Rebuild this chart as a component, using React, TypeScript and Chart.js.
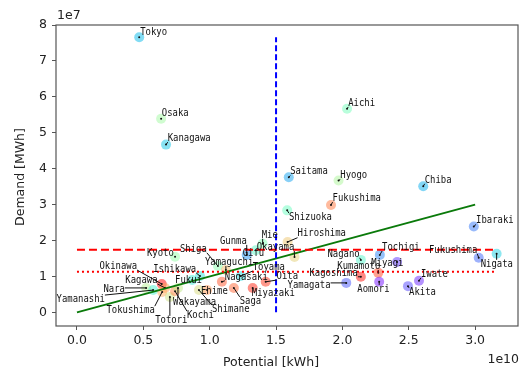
import React, { useEffect, useRef } from "react";
import { Chart, registerables } from "chart.js";

Chart.register(...registerables);

// Potential in units of 1e10 kWh, Demand in units of 1e7 MWh
const prefectures = [
  "Tokyo", "Osaka", "Kanagawa", "Aichi", "Saitama", "Hyogo", "Chiba", "Fukushima", "Shizuoka", "Ibaraki",
  "Hiroshima", "Mie", "Okayama", "Gifu", "Gunma", "Kyoto", "Shiga", "Yamaguchi", "Toyama", "Ishikawa",
  "Fukui", "Okinawa", "Kagawa", "Nara", "Yamanashi", "Tokushima", "Totori", "Kochi", "Wakayama", "Ehime",
  "Shimane", "Nagasaki", "Saga", "Miyazaki", "Oita", "Nagano", "Tochigi", "Miyagi", "Kumamoto", "Kagoshima",
  "Yamagata", "Aomori", "Akita", "Iwate", "Fukushima", "Nigata",
];
const prefCode = [
  13, 27, 14, 23, 11, 28, 12, 40, 22, 8,
  34, 24, 33, 21, 10, 26, 25, 35, 16, 17,
  18, 47, 37, 29, 19, 36, 31, 39, 30, 38,
  32, 42, 41, 45, 44, 20, 9, 4, 43, 46,
  6, 2, 5, 3, 7, 15,
];
const potential = [
  0.469, 0.634, 0.671, 2.035, 1.596, 1.971, 2.609, 1.914, 1.584, 2.99,
  1.587, 1.399, 1.639, 1.347, 1.279, 0.739, 1.062, 1.122, 1.234, 0.927,
  0.868, 0.639, 0.664, 0.521, 0.574, 0.642, 0.70, 0.739, 0.761, 0.98,
  0.919, 1.092, 1.182, 1.324, 1.422, 2.139, 2.282, 2.412, 2.27, 2.139,
  2.029, 2.277, 2.494, 2.577, 3.027, 3.162,
];
const demand = [
  7.66, 5.39, 4.67, 5.67, 3.76, 3.67, 3.51, 2.99, 2.84, 2.39,
  1.96, 1.91, 1.54, 1.73, 1.60, 1.55, 1.29, 1.18, 1.01, 1.01,
  0.90, 0.79, 0.68, 0.68, 0.62, 0.57, 0.43, 0.59, 0.68, 0.62,
  0.62, 0.85, 0.68, 0.68, 0.85, 1.46, 1.60, 1.40, 1.10, 0.99,
  0.82, 0.85, 0.73, 0.88, 1.52, 1.63,
];
// label anchor (left edge, vertical centre) in data units
const labelX = [
  0.476, 0.639, 0.684, 2.044, 1.607, 1.984, 2.62, 1.926, 1.597, 3.007,
  1.662, 1.392, 1.354, 1.249, 1.077, 0.527, 0.776, 0.964, 1.324, 0.574,
  0.739, 0.169, 0.364, 0.199, -0.154, 0.222, 0.589, 0.829, 0.724, 0.934,
  1.017, 1.114, 1.226, 1.317, 1.504, 1.887, 2.299, 2.217, 1.962, 1.752,
  1.587, 2.112, 2.502, 2.592, 2.652, 3.042,
];
const labelY = [
  7.80, 5.53, 4.85, 5.83, 3.92, 3.81, 3.69, 3.18, 2.65, 2.56,
  2.19, 2.16, 1.82, 1.655, 1.99, 1.65, 1.77, 1.40, 1.26, 1.21,
  0.90, 1.29, 0.90, 0.65, 0.37, 0.06, -0.21, -0.08, 0.29, 0.59,
  0.09, 0.99, 0.32, 0.54, 1.01, 1.63, 1.82, 1.38, 1.29, 1.10,
  0.76, 0.65, 0.57, 1.07, 1.74, 1.35,
];

const meanDemand = 1.74;
const medianDemand = 1.13;
const potentialThreshold = 1.5;
const fitLine = [
  [0, 0],
  [3.0, 3.0],
];

const xTicks = [0, 0.5, 1.0, 1.5, 2.0, 2.5, 3.0];
const yTicks = [0, 1, 2, 3, 4, 5, 6, 7, 8];

function rainbow(code: number, alpha: number) {
  const t = (code - 1) / 46;
  const r = Math.min(1, Math.abs(2 * t - 0.5));
  const g = Math.sin(Math.PI * t);
  const b = Math.cos((Math.PI * t) / 2);
  return `rgba(${Math.round(r * 255)},${Math.round(g * 255)},${Math.round(b * 255)},${alpha})`;
}

const LABEL_SX = 0.85;

const decorPlugin = {
  id: "decor",
  afterDatasetsDraw(chart: any) {
    const { ctx, scales } = chart;
    const xs = scales.x;
    const ys = scales.y;
    ctx.save();
    ctx.font = '10.5px "DejaVu Sans Mono"';
    ctx.textBaseline = "middle";
    ctx.textAlign = "left";
    for (let i = 0; i < prefectures.length; i++) {
      const px = xs.getPixelForValue(potential[i]);
      const py = ys.getPixelForValue(demand[i]);
      const lx = xs.getPixelForValue(labelX[i]);
      const ly = ys.getPixelForValue(labelY[i]);
      const w = ctx.measureText(prefectures[i]).width * LABEL_SX;
      const h = 8;
      const nx = Math.max(lx, Math.min(px, lx + w));
      const ny = Math.max(ly - h / 2, Math.min(py, ly + h / 2));
      if (Math.hypot(nx - px, ny - py) > 1.5) {
        ctx.strokeStyle = "#111";
        ctx.lineWidth = 1;
        ctx.beginPath();
        ctx.moveTo(px, py);
        ctx.lineTo(nx, ny);
        ctx.stroke();
      }
      ctx.save();
      ctx.translate(lx, ly);
      ctx.scale(LABEL_SX, 1);
      ctx.fillStyle = "#111";
      ctx.fillText(prefectures[i], 0, 0);
      ctx.restore();
    }
    ctx.restore();
  },
  afterDraw(chart: any) {
    const { ctx, chartArea } = chart;
    ctx.save();
    ctx.strokeStyle = "#555";
    ctx.lineWidth = 1.2;
    ctx.strokeRect(
      chartArea.left,
      chartArea.top,
      chartArea.right - chartArea.left,
      chartArea.bottom - chartArea.top
    );
    ctx.fillStyle = "#222";
    ctx.font = '12.5px "DejaVu Sans"';
    ctx.textBaseline = "middle";
    ctx.textAlign = "center";
    ctx.fillText("Potential [kWh]", 271, 363);
    ctx.textAlign = "left";
    ctx.fillText("1e7", 57, 16);
    ctx.textAlign = "right";
    ctx.fillText("1e10", 519, 360);
    ctx.translate(21, 177);
    ctx.rotate(-Math.PI / 2);
    ctx.textAlign = "center";
    ctx.fillText("Demand [MWh]", 0, 0);
    ctx.restore();
  },
};

export default function App() {
  const canvasRef = useRef<HTMLCanvasElement | null>(null);

  useEffect(() => {
    document.body.style.margin = "0";
    const canvas = canvasRef.current;
    if (!canvas) return;
    const points = potential.map((p, i) => ({ x: p, y: demand[i] }));
    const maxPot = Math.max(...potential);
    const maxDem = Math.max(...demand);
    const chart = new Chart(canvas, {
      type: "scatter",
      data: {
        datasets: [
          {
            data: [
              { x: potentialThreshold, y: 0 },
              { x: potentialThreshold, y: maxDem },
            ],
            showLine: true,
            borderColor: "#0000ff",
            borderWidth: 2,
            borderDash: [6, 3],
            pointRadius: 0,
            order: 0,
          },
          {
            data: [
              { x: 0, y: meanDemand },
              { x: maxPot, y: meanDemand },
            ],
            showLine: true,
            borderColor: "#ff0000",
            borderWidth: 2,
            borderDash: [8, 4],
            pointRadius: 0,
            order: 0,
          },
          {
            data: [
              { x: 0, y: medianDemand },
              { x: maxPot, y: medianDemand },
            ],
            showLine: true,
            borderColor: "#ff0000",
            borderWidth: 2,
            borderDash: [2, 3],
            pointRadius: 0,
            order: 0,
          },
          {
            data: fitLine.map(([a, b]) => ({ x: a, y: b })),
            showLine: true,
            borderColor: "#0a7a0a",
            borderWidth: 2,
            pointRadius: 0,
            order: 0,
          },
          {
            data: points,
            pointRadius: 1,
            pointBackgroundColor: "#111",
            pointBorderWidth: 0,
            order: 1,
          },
          {
            data: points,
            pointRadius: 5,
            pointBackgroundColor: prefCode.map((c) => rainbow(c, 0.5)),
            pointBorderWidth: 0,
            order: 2,
          },
        ],
      },
      options: {
        animation: false,
        responsive: false,
        devicePixelRatio: 1,
        layout: { padding: { left: 0, top: 25, right: 3, bottom: 0 } },
        plugins: {
          legend: { display: false },
          tooltip: { enabled: false },
        },
        scales: {
          x: {
            type: "linear",
            min: -0.158,
            max: 3.323,
            afterBuildTicks: (s: any) => {
              s.ticks = xTicks.map((v) => ({ value: v }));
            },
            afterFit: (s: any) => {
              s.height = 46;
            },
            border: { display: false },
            grid: {
              display: true,
              drawOnChartArea: false,
              drawTicks: true,
              tickLength: 4,
              tickColor: "#555",
              color: "#555",
            },
            ticks: {
              padding: 3,
              color: "#222",
              font: { family: "DejaVu Sans", size: 12.5 },
              callback: (v: any) => Number(v).toFixed(1),
              maxRotation: 0,
            },
          },
          y: {
            type: "linear",
            min: -0.38,
            max: 8.0,
            afterBuildTicks: (s: any) => {
              s.ticks = yTicks.map((v) => ({ value: v }));
            },
            afterFit: (s: any) => {
              s.width = 56;
            },
            border: { display: false },
            grid: {
              display: true,
              drawOnChartArea: false,
              drawTicks: true,
              tickLength: 4,
              tickColor: "#555",
              color: "#555",
            },
            ticks: {
              padding: 5,
              color: "#222",
              font: { family: "DejaVu Sans", size: 12.5 },
              callback: (v: any) => String(v),
            },
          },
        },
      },
      plugins: [decorPlugin],
    });
    return () => chart.destroy();
  }, []);

  return (
    <div style={{ width: 523, height: 372 }}>
      <canvas ref={canvasRef} width={523} height={372} />
    </div>
  );
}
